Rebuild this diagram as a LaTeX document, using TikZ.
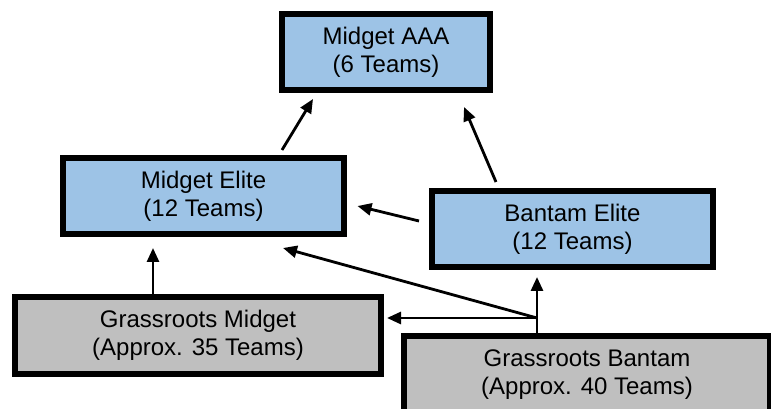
\documentclass[tikz,border=0pt]{standalone}
\usepackage{fontspec}
\setmainfont{Liberation Sans}
\usetikzlibrary{arrows.meta}

\definecolor{eliteblue}{HTML}{9DC3E6}
\definecolor{rootgray}{HTML}{BFBFBF}

\begin{document}
\begin{tikzpicture}[x=1pt,y=1pt,
    level/.style={draw=black,line width=6pt,align=center,inner sep=0pt,
      font=\fontsize{24}{28}\selectfont,
      execute at begin node=\rule{0pt}{25pt}},
    elite/.style={level,fill=eliteblue,minimum width=281pt,minimum height=76pt},
    roots/.style={level,fill=rootgray,minimum width=366pt,minimum height=77pt},
    arr/.style={-{Triangle[length=14pt,width=12pt]},line width=2.8pt}]
    \useasboundingbox (0,0) rectangle (771,409);
    \clip (0,0) rectangle (771,409);

    % top of the ladder
    \node[elite,minimum width=208pt] (aaa) at (386,357) {Midget AAA\\(6 Teams)};
    \node[elite] (melite) at (203.5,213) {Midget Elite\\(12 Teams)};
    \node[elite] (belite) at (572.5,180) {Bantam Elite\\(12 Teams)};

    % grassroots
    \node[roots] (gmidget) at (198,73.5) {Grassroots Midget\\(Approx. 35 Teams)};
    \node[roots] (gbantam) at (587,34.5) {Grassroots Bantam\\(Approx. 40 Teams)};

    \coordinate (split) at ([xshift=-50,yshift=15]gbantam.north);

    \draw[arr] ([xshift=78.5,yshift=5]melite.north) -- ([xshift=-73,yshift=-6]aaa.south);
    \draw[arr] ([xshift=-76.5,yshift=6]belite.north) -- ([xshift=78,yshift=-14]aaa.south);
    \draw[arr] ([xshift=-10,yshift=8]belite.west) -- ([xshift=10.5,yshift=-10]melite.east);
    \draw[arr] ([xshift=-45]gmidget.north) -- ([xshift=-50.5,yshift=-11]melite.south);
    \draw[arr] (split |- gbantam.north) -- ([xshift=-35.5,yshift=-7]belite.south);
    \draw[arr] (split) -- ([xshift=3]split -| gmidget.east);
    \draw[arr] (split) -- ([xshift=79.5,yshift=-11]melite.south);
  \end{tikzpicture}
\end{document}
